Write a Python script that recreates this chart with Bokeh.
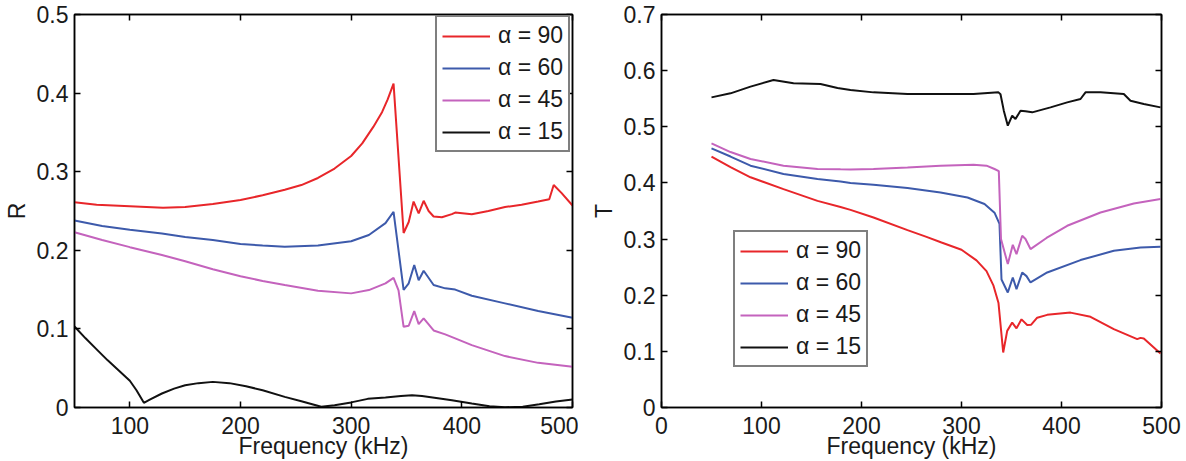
from bokeh.plotting import figure
from bokeh.layouts import row
from bokeh.models import (Range1d, FixedTicker, LinearAxis, CustomJSTickFormatter,
                          Legend, LegendItem)
from bokeh.embed import file_html
from bokeh.resources import INLINE

FONT = "Liberation Sans"
TEXT = "#1a1a1a"
FS = "23px"

# ---- Reflection coefficient R vs frequency (kHz) ----
r90_f = [50, 70, 100, 130, 150, 175, 200, 220, 240, 255, 270, 285, 300, 310, 320, 328, 333, 338.3,
         347.4, 352, 356.4, 361, 365.5, 370, 374.5, 382, 391, 394, 409, 424, 439, 454, 469, 479, 483, 490, 500]
r90_v = [0.261, 0.258, 0.256, 0.254, 0.255, 0.259, 0.264, 0.270, 0.277, 0.283, 0.292, 0.304, 0.320, 0.336,
         0.357, 0.376, 0.392, 0.412, 0.222, 0.236, 0.262, 0.247, 0.263, 0.250, 0.243, 0.242, 0.246, 0.248,
         0.246, 0.250, 0.255, 0.258, 0.262, 0.265, 0.283, 0.273, 0.257]

r60_f = [50, 75, 100, 129, 150, 175, 200, 220, 240, 270, 300, 316, 331, 338.3, 347.4, 352, 357, 361,
         365.5, 374.5, 385, 394, 409, 439, 469, 500]
r60_v = [0.238, 0.231, 0.226, 0.2215, 0.217, 0.213, 0.208, 0.206, 0.2045, 0.206, 0.2115, 0.2195, 0.2345,
         0.249, 0.1495, 0.158, 0.1813, 0.162, 0.174, 0.1558, 0.1516, 0.150, 0.1422, 0.1325, 0.1227, 0.1141]

r45_f = [50, 75, 100, 129, 150, 175, 200, 220, 240, 270, 300, 316, 331, 338.3, 342.8, 347.4, 352, 357,
         361, 365.5, 374.5, 385, 394, 409, 439, 469, 500]
r45_v = [0.223, 0.213, 0.204, 0.194, 0.186, 0.176, 0.167, 0.161, 0.1558, 0.1486, 0.1452, 0.1494, 0.158,
         0.165, 0.149, 0.1027, 0.104, 0.1227, 0.106, 0.1134, 0.098, 0.093, 0.088, 0.0794, 0.0654, 0.0568, 0.0517]

r15_f = [50, 60, 70, 80, 90, 100, 106, 112.7, 118, 129, 140, 150, 162, 175, 190, 205, 220, 240, 255, 273,
         285, 300, 315, 331, 345, 355, 364, 380, 391, 409, 425, 439, 455, 470, 485, 500]
r15_v = [0.103, 0.088, 0.074, 0.060, 0.047, 0.034, 0.022, 0.006, 0.010, 0.0178, 0.024, 0.0284, 0.031, 0.0326,
         0.031, 0.027, 0.022, 0.0135, 0.008, 0.001, 0.003, 0.0065, 0.011, 0.0127, 0.0145, 0.0157, 0.0145,
         0.0115, 0.0093, 0.005, 0.0015, 0.0003, 0.001, 0.004, 0.0075, 0.0102]

# ---- Transmission coefficient T vs frequency (kHz) ----
t90_f = [50, 69, 89, 122, 156, 179, 189, 212, 246, 265, 280, 300, 315, 325, 332, 337, 341.7, 345.7, 350.7,
         355, 360, 365.7, 369.7, 375.7, 385.7, 409, 429, 452.3, 475.7, 479, 482.3, 499]
t90_v = [0.447, 0.428, 0.410, 0.389, 0.368, 0.357, 0.352, 0.3385, 0.316, 0.304, 0.294, 0.281, 0.262, 0.243,
         0.217, 0.186, 0.098, 0.1365, 0.1513, 0.141, 0.157, 0.147, 0.1475, 0.160, 0.165, 0.169, 0.1615,
         0.1395, 0.1217, 0.124, 0.123, 0.096]

t60_f = [50, 69, 89, 122, 156, 179, 189, 212, 246, 279, 306, 323, 333, 338, 340, 346.3, 351.3, 355, 360.7,
         365, 369, 385.7, 419, 452.3, 479, 499]
t60_v = [0.4615, 0.447, 0.4307, 0.4159, 0.407, 0.4027, 0.400, 0.3968, 0.3909, 0.3831, 0.374, 0.3624, 0.347,
         0.327, 0.228, 0.2048, 0.2316, 0.2109, 0.2405, 0.234, 0.2227, 0.2405, 0.2626, 0.2791, 0.285, 0.2863]

t45_f = [50, 69, 89, 122, 156, 179, 189, 212, 246, 279, 312, 325, 333, 337.3, 339.5, 346.3, 351.3, 355,
         360.7, 364, 369, 385, 405.7, 439, 472.3, 499]
t45_v = [0.4704, 0.455, 0.4426, 0.4307, 0.4248, 0.4242, 0.424, 0.4248, 0.4277, 0.4307, 0.4324, 0.4307,
         0.4248, 0.421, 0.30, 0.2554, 0.2898, 0.2732, 0.3059, 0.300, 0.2822, 0.302, 0.3237, 0.3474, 0.3635, 0.3713]

t15_f = [50, 69, 89, 112, 132, 159, 176, 189, 212, 246, 279, 312, 337, 339, 342.3, 346.3, 350.7, 354, 359,
         364, 370.7, 389, 405.7, 419, 424, 439, 462.3, 469, 482.3, 499]
t15_v = [0.5524, 0.5596, 0.5715, 0.5834, 0.5774, 0.5763, 0.569, 0.5656, 0.5613, 0.5585, 0.5585, 0.5585,
         0.5613, 0.558, 0.5287, 0.502, 0.5198, 0.514, 0.5287, 0.5275, 0.5257, 0.5346, 0.5435, 0.5495, 0.5613,
         0.5613, 0.5585, 0.5465, 0.5406, 0.5346]

series_labels = ["α = 90", "α = 60", "α = 45", "α = 15"]
series_colors = ["#e8262a", "#3d5aab", "#c463bd", "#111111"]

r_xticks = [100, 200, 300, 400, 500]
r_xlabels = ["100", "200", "300", "400", "500"]
r_yticks = [0, 0.1, 0.2, 0.3, 0.4, 0.5]
r_ylabels = ["0", "0.1", "0.2", "0.3", "0.4", "0.5"]

t_xticks = [0, 100, 200, 300, 400, 500]
t_xlabels = ["0", "100", "200", "300", "400", "500"]
t_yticks = [0, 0.1, 0.2, 0.3, 0.4, 0.5, 0.6, 0.7]
t_ylabels = ["0", "0.1", "0.2", "0.3", "0.4", "0.5", "0.6", "0.7"]


def make_panel(width, border_left, border_right, xr, yr, xticks, xlabels, yticks, ylabels, ylabel):
    p = figure(width=width, height=461, x_range=Range1d(*xr), y_range=Range1d(*yr),
               output_backend="svg", toolbar_location=None,
               min_border_left=border_left, min_border_right=border_right,
               min_border_top=14, min_border_bottom=54)
    p.grid.visible = False
    p.outline_line_color = "black"
    p.outline_line_width = 1.5
    p.background_fill_color = "white"
    p.border_fill_color = "white"

    xa, ya = p.xaxis[0], p.yaxis[0]
    xa.ticker = FixedTicker(ticks=xticks)
    xa.major_label_overrides = dict(zip(xticks, xlabels))
    ya.ticker = FixedTicker(ticks=yticks)
    ya.major_label_overrides = dict(zip(yticks, ylabels))
    xa.axis_label = "Frequency (kHz)"
    ya.axis_label = ylabel
    for ax in (xa, ya):
        ax.major_tick_in = 6
        ax.major_tick_out = 0
        ax.minor_tick_line_color = None
        ax.axis_line_width = 1.5
        ax.major_tick_line_width = 1.5
        ax.major_label_text_font = FONT
        ax.major_label_text_font_size = FS
        ax.major_label_text_color = TEXT
        ax.axis_label_text_font = FONT
        ax.axis_label_text_font_size = FS
        ax.axis_label_text_font_style = "normal"
        ax.axis_label_text_color = TEXT
    xa.major_label_standoff = 9
    xa.axis_label_standoff = -4
    ya.major_label_standoff = 6
    ya.axis_label_standoff = 4

    # mirrored inward ticks on the top and right edges of the box
    blank = CustomJSTickFormatter(code="return ''")
    for side, ticks in (("above", xticks), ("right", yticks)):
        ax = LinearAxis(ticker=FixedTicker(ticks=ticks), formatter=blank,
                        major_tick_in=6, major_tick_out=0, minor_tick_line_color=None,
                        axis_line_width=1.5, major_tick_line_width=1.5,
                        major_label_standoff=0, major_label_text_font_size="0px")
        p.add_layout(ax, side)
    return p


def add_curves(p, data, loc):
    items = []
    for (f, v), lab, col in zip(data, series_labels, series_colors):
        r = p.line(f, v, line_color=col, line_width=2)
        items.append(LegendItem(label=lab, renderers=[r]))
    leg = Legend(items=items, location=loc, margin=0, padding=5, spacing=5,
                 glyph_width=48, glyph_height=22, label_height=22, label_standoff=8,
                 label_text_font=FONT, label_text_font_size=FS, label_text_color=TEXT,
                 border_line_color="black", border_line_width=2,
                 background_fill_color="white", background_fill_alpha=1.0)
    p.add_layout(leg)


p_r = make_panel(578, 72, 6, (50, 500), (0, 0.5), r_xticks, r_xlabels, r_yticks, r_ylabels, "R")
add_curves(p_r, [(r90_f, r90_v), (r60_f, r60_v), (r45_f, r45_v), (r15_f, r15_v)], (361, 255))

p_t = make_panel(608, 83, 25, (0, 500), (0, 0.7), t_xticks, t_xlabels, t_yticks, t_ylabels, "T")
add_curves(p_t, [(t90_f, t90_v), (t60_f, t60_v), (t45_f, t45_v), (t15_f, t15_v)], (72, 40))

layout = row(p_r, p_t, spacing=0)
open("out.html", "w").write(file_html(layout, INLINE))
